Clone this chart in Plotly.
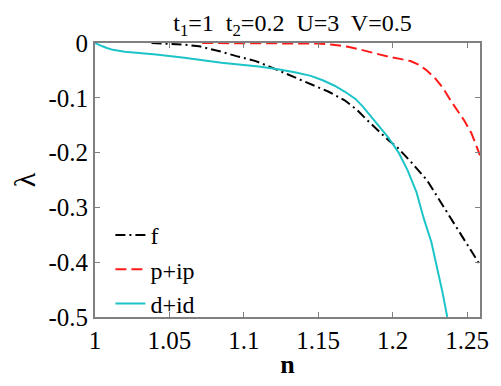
import plotly.graph_objects as go

# f (dash-dot black)
f_x = [1.038, 1.05, 1.06, 1.07, 1.078, 1.085, 1.095, 1.108, 1.118, 1.125, 1.135, 1.145, 1.157, 1.168, 1.176, 1.183, 1.19, 1.197, 1.203, 1.213, 1.223, 1.231, 1.239, 1.248, 1.257, 1.2587]
f_y = [0.0, -0.001, -0.003, -0.006, -0.011, -0.016, -0.024, -0.033, -0.044, -0.052, -0.063, -0.075, -0.089, -0.105, -0.122, -0.141, -0.159, -0.177, -0.19, -0.219, -0.25, -0.285, -0.321, -0.36, -0.4, -0.405]

# p+ip (dashed red)
p_x = [1.072, 1.12, 1.15, 1.16, 1.17, 1.179, 1.188, 1.197, 1.205, 1.212, 1.217, 1.222, 1.228, 1.234, 1.239, 1.244, 1.248, 1.253, 1.2587]
p_y = [0.0, 0.0, -0.001, -0.003, -0.007, -0.0125, -0.019, -0.025, -0.029, -0.033, -0.039, -0.048, -0.0625, -0.083, -0.105, -0.124, -0.141, -0.165, -0.205]

# d+id (solid cyan)
d_x = [1.0, 1.002, 1.005, 1.008, 1.012, 1.02, 1.03, 1.041, 1.06, 1.085, 1.11, 1.123, 1.135, 1.145, 1.153, 1.161, 1.168, 1.175, 1.18, 1.185, 1.191, 1.197, 1.204, 1.21, 1.216, 1.221, 1.226, 1.23, 1.2335, 1.2367]
d_y = [0.0, -0.003, -0.006, -0.009, -0.0125, -0.016, -0.018, -0.021, -0.027, -0.036, -0.043, -0.048, -0.054, -0.06, -0.068, -0.078, -0.089, -0.102, -0.116, -0.132, -0.151, -0.172, -0.2, -0.232, -0.272, -0.321, -0.363, -0.41, -0.455, -0.5]

x_ticks = [1, 1.05, 1.1, 1.15, 1.2, 1.25]
x_ticktext = ["1", "1.05", "1.1", "1.15", "1.2", "1.25"]
y_ticks = [0, -0.1, -0.2, -0.3, -0.4, -0.5]
y_ticktext = ["0", "-0.1", "-0.2", "-0.3", "-0.4", "-0.5"]

serif = "Liberation Serif"

fig = go.Figure()
fig.add_trace(go.Scatter(x=f_x, y=f_y, mode="lines", name="f", legendgroup="a",
                         line=dict(color="black", width=2, dash="10px,4px,2px,4px")))
fig.add_trace(go.Scatter(x=p_x, y=p_y, mode="lines", name="p+ip", legendgroup="b",
                         line=dict(color="#ff1a1a", width=2, dash="11px,5px")))
fig.add_trace(go.Scatter(x=d_x, y=d_y, mode="lines", name="d+id", legendgroup="c",
                         line=dict(color="#1cc4c8", width=2)))

axis_common = dict(showline=True, linecolor="#808080", linewidth=2, mirror="ticks",
                   ticks="inside", ticklen=5, tickcolor="#808080", showgrid=False,
                   zeroline=False, tickfont=dict(family=serif, size=25, color="black"))

fig.update_xaxes(range=[1, 1.2587], tickvals=x_ticks, ticktext=x_ticktext,
                 title=dict(text="<b>n</b>", font=dict(family=serif, size=26, color="black"), standoff=2),
                 **axis_common)
fig.update_yaxes(range=[-0.5, 0], tickvals=y_ticks, ticktext=y_ticktext,
                 title=dict(text="λ", font=dict(family=serif, size=30, color="black"), standoff=6),
                 **axis_common)

fig.update_layout(
    width=493, height=378,
    margin=dict(l=87, r=18, t=35, b=63),
    paper_bgcolor="white", plot_bgcolor="white",
    font=dict(family=serif, color="black"),
    title=dict(text="t<sub>1</sub>=1  t<sub>2</sub>=0.2  U=3  V=0.5", x=0.577, xanchor="center",
               y=0.962, yanchor="middle", font=dict(family=serif, size=24, color="black")),
    legend=dict(x=0.04, y=0.38, xanchor="left", yanchor="top", bgcolor="rgba(0,0,0,0)",
                font=dict(family=serif, size=24, color="black"), tracegroupgap=0,
                itemwidth=30),
    showlegend=True,
)

fig.write_html("out.html")
